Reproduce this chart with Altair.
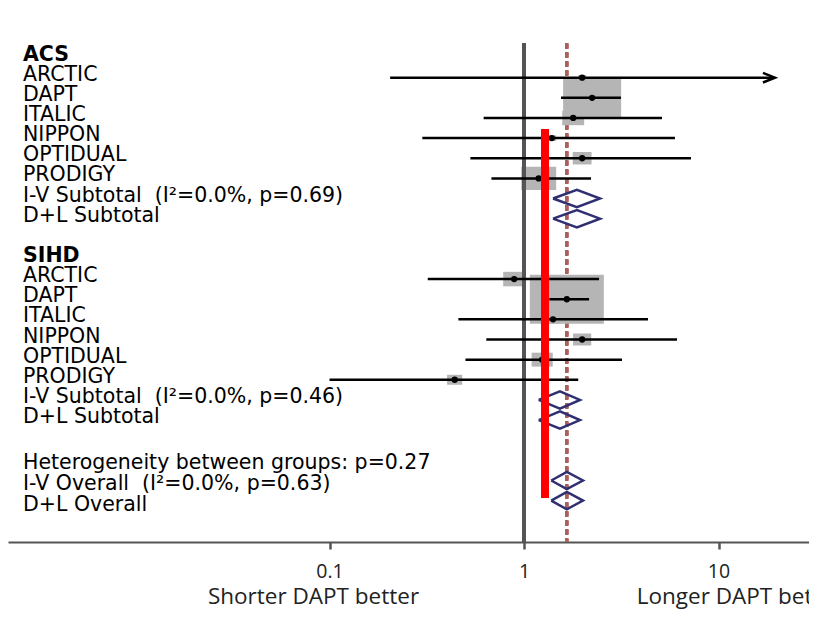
import altair as alt
import pandas as pd

# ---------------- data ----------------
row_labels = [
    "ACS", "ARCTIC", "DAPT", "ITALIC", "NIPPON", "OPTIDUAL", "PRODIGY",
    "I-V Subtotal\u00a0 (I²=0.0%, p=0.69)", "D+L Subtotal",
    "SIHD", "ARCTIC", "DAPT", "ITALIC", "NIPPON", "OPTIDUAL", "PRODIGY",
    "I-V Subtotal\u00a0 (I²=0.0%, p=0.46)", "D+L Subtotal",
    "Heterogeneity between groups: p=0.27",
    "I-V Overall\u00a0 (I²=0.0%, p=0.63)", "D+L Overall",
]
label_row = [1, 2, 3, 4, 5, 6, 7, 8, 9,
             11, 12, 13, 14, 15, 16, 17, 18, 19,
             21.3, 22.3, 23.35]
row_is_header = [True] + [False] * 8 + [True] + [False] * 11

study_rows = [2, 3, 4, 5, 6, 7, 12, 13, 14, 15, 16, 17]
study_est = [1.99, 2.24, 1.79, 1.39, 1.99, 1.19, 0.89, 1.66, 1.41, 1.99, 1.24, 0.44]
study_lo = [0.205, 1.55, 0.62, 0.30, 0.53, 0.68, 0.32, 1.35, 0.46, 0.64, 0.50, 0.10]
study_hi = [19.5, 3.15, 5.12, 5.97, 7.22, 2.21, 2.43, 2.16, 4.34, 6.12, 3.19, 1.90]
study_weight = [0.5, 26.5, 3.8, 0.6, 2.8, 9.6, 3.8, 43.1, 1.3, 2.6, 3.5, 1.8]

pooled_rows = [8, 9, 18, 19, 22, 23]
pooled_est = [1.87, 1.87, 1.53, 1.53, 1.66, 1.66]
pooled_lo = [1.41, 1.41, 1.19, 1.19, 1.38, 1.38]
pooled_hi = [2.46, 2.46, 1.94, 1.94, 2.01, 2.01]

x_ticks = [0.1, 1, 10]
favours_text = ["Shorter DAPT better", "Longer DAPT better"]
favours_at = [0.1, 10]
null_value = 1
overall_value = pooled_est[-1]
red_marker_value = 1.28

# ---------------- tables ----------------
labels_df = pd.DataFrame({"label": row_labels, "row": label_row, "header": row_is_header})
studies_df = pd.DataFrame({"row": study_rows, "est": study_est, "lo": study_lo,
                           "hi": study_hi, "weight": study_weight})
half_h = 0.43
verts = []
for i, (r, e, lo, hi) in enumerate(zip(pooled_rows, pooled_est, pooled_lo, pooled_hi)):
    for k, (xv, yv) in enumerate([(lo, r), (e, r - half_h), (hi, r), (e, r + half_h), (lo, r)]):
        verts.append({"id": i, "k": k, "x": xv, "y": yv})
diam_df = pd.DataFrame(verts)
fav_df = pd.DataFrame({"label": favours_text, "x": favours_at, "i": [0, 1]})

# ---------------- scales / axis ----------------
VIEW_W, VIEW_H = 801, 612
x_scale = alt.Scale(type="log", domain=[0.002223, 29.19], nice=False)
y_scale = alt.Scale(domain=[-1.4598, (VIEW_H - 29.4) / 20.14], reverse=True, nice=False, zero=False)
x_axis = alt.Axis(values=x_ticks, format="~g", labelFont="Open Sans", labelFontSize=19.5,
                  labelColor="#222222", tickSize=7, tickWidth=2.5, tickColor="#555555",
                  domainColor="#555555", domainWidth=2, labelPadding=13, offset=534 - VIEW_H,
                  title=None, grid=False, labelFlush=False)
Y = lambda f: alt.Y(f, type="quantitative", scale=y_scale, axis=None)
X = lambda f: alt.X(f, type="quantitative", scale=x_scale, axis=x_axis)

ROW_TOP, ROW_AXIS = 0.3, 25.05

null_line = alt.Chart(labels_df).mark_rule(color="#555555", strokeWidth=2.5).encode(
    x=alt.XDatum(null_value, type="quantitative", scale=x_scale, axis=x_axis),
    y=alt.YDatum(ROW_TOP, type="quantitative", scale=y_scale, axis=None),
    y2=alt.Y2Datum(ROW_AXIS),
)
overall_line = alt.Chart(labels_df).mark_rule(color="#a8625a", strokeWidth=2.5,
                                               strokeDash=[5, 4]).encode(
    x=alt.XDatum(overall_value, type="quantitative", scale=x_scale, axis=x_axis),
    y=alt.YDatum(ROW_TOP, type="quantitative", scale=y_scale, axis=None),
    y2=alt.Y2Datum(ROW_AXIS),
)

rect_path = "M-1,-0.66L1,-0.66L1,0.66L-1,0.66Z"
boxes = alt.Chart(studies_df).mark_point(shape=rect_path, filled=True, color="#b5b5b5",
                                         opacity=1, strokeWidth=0).encode(
    x=X("est"), y=Y("row"),
    size=alt.Size("weight:Q", scale=alt.Scale(domain=[0, 50], range=[0, 6353]), legend=None),
)
ci = alt.Chart(studies_df).mark_rule(color="black", strokeWidth=2.5).encode(
    x=X("lo"), x2="hi", y=Y("row"))
pts = alt.Chart(studies_df).mark_circle(color="black", size=40, opacity=1).encode(
    x=X("est"), y=Y("row"))
arrow = alt.Chart(studies_df).transform_filter("datum.hi > 10").mark_point(
    shape="M-1,-0.4L0,0L-1,0.4", filled=False, color="black", size=576,
    strokeWidth=2.5, opacity=1).encode(x=X("hi"), y=Y("row"))

diamonds = alt.Chart(diam_df).mark_line(color="#2f2f72", strokeWidth=2.5,
                                        strokeJoin="miter").encode(
    x=X("x"), y=Y("y"), detail="id:N", order="k:Q")

red_line = alt.Chart(labels_df).mark_rule(color="#ff0000", strokeWidth=7,
                                          strokeCap="butt").encode(
    x=alt.XDatum(red_marker_value, type="quantitative", scale=x_scale, axis=x_axis),
    y=alt.YDatum(4.55, type="quantitative", scale=y_scale, axis=None),
    y2=alt.Y2Datum(22.87),
)

LABEL_FONT = dict(align="left", baseline="middle", font="DejaVu Sans", fontSize=20.5,
                  dy=-3, color="black")
lab_plain = alt.Chart(labels_df).transform_filter("!datum.header").mark_text(
    **LABEL_FONT).encode(x=alt.value(15), y=Y("row"), text="label:N")
lab_bold = alt.Chart(labels_df).transform_filter("datum.header").mark_text(
    fontWeight="bold", **LABEL_FONT).encode(x=alt.value(15), y=Y("row"), text="label:N")

FAV_Y = alt.YDatum(27.8, type="quantitative", scale=y_scale, axis=None)
fav_left = alt.Chart(fav_df).transform_filter("datum.i == 0").mark_text(
    font="Open Sans", fontSize=22.5, color="#222222", align="center", baseline="middle",
    dx=-16).encode(x=X("x"), y=FAV_Y, text="label:N")
fav_right = alt.Chart(fav_df).transform_filter("datum.i == 1").mark_text(
    font="Open Sans", fontSize=22.5, color="#222222", align="center", baseline="middle",
    dx=21, clip=True).encode(x=X("x"), y=FAV_Y, text="label:N")

chart = alt.layer(
    overall_line, boxes, null_line, ci, pts, arrow, diamonds, red_line,
    lab_plain, lab_bold, fav_left, fav_right,
).properties(
    width=VIEW_W, height=VIEW_H,
    background="white",
    padding=0,
    autosize=alt.AutoSizeParams(type="none"),
).configure_view(fill="white", strokeWidth=0)

chart.save("out.html", embed_options={"renderer": "svg", "actions": False})
